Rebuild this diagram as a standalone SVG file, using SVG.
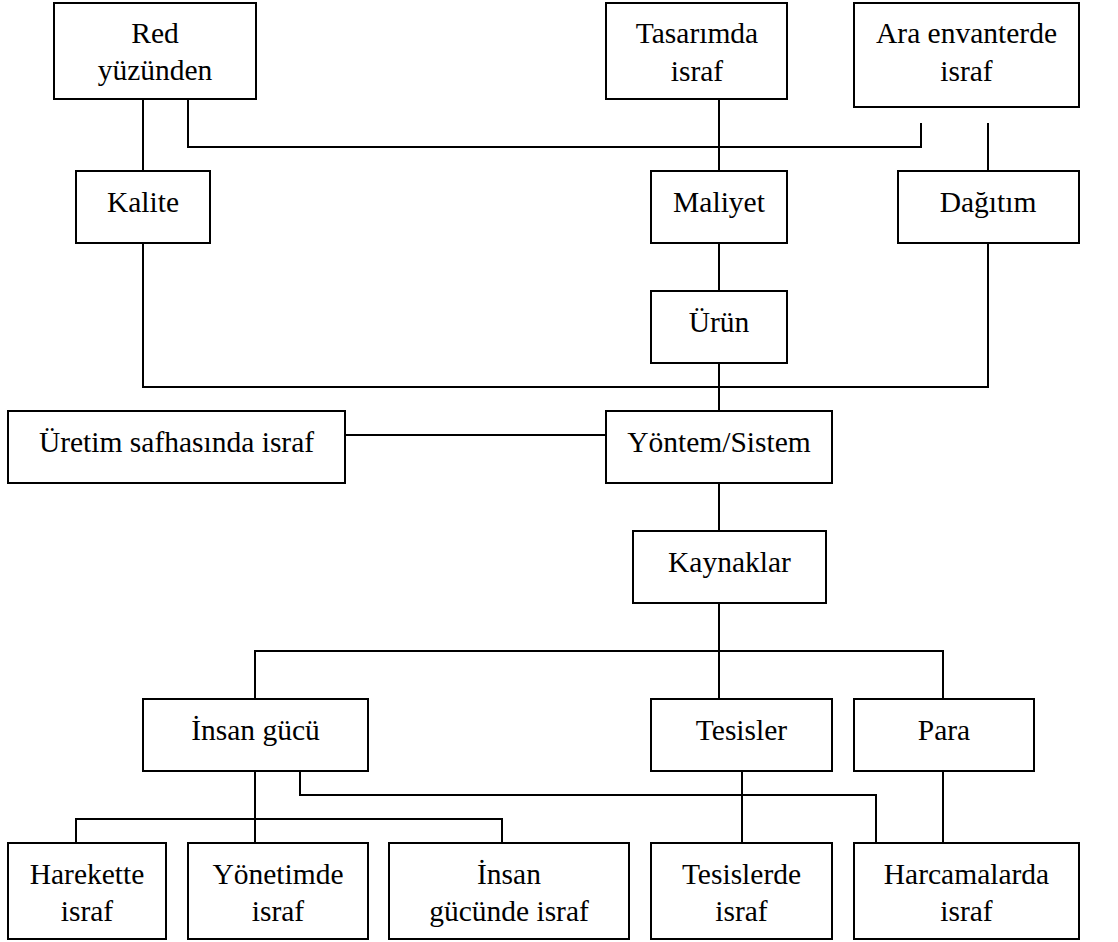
<svg xmlns="http://www.w3.org/2000/svg" width="1118" height="942" viewBox="0 0 1118 942">
  <style>
    .box { fill: #fff; stroke: #000; stroke-width: 2; }
    .wire { fill: none; stroke: #000; stroke-width: 2; }
    .lbl { font-family: 'Liberation Serif', 'Times New Roman', Times, 'DejaVu Serif', serif; font-size: 29.5px; fill: #000; text-anchor: middle; }
  </style>
  <rect width="1118" height="942" fill="#fff"/>

  <!-- connectors -->
  <g id="connectors">
    <line class="wire" x1="143" y1="99" x2="143" y2="171"/>
    <polyline class="wire" points="188,99 188,147 921,147 921,123"/>
    <line class="wire" x1="719" y1="99" x2="719" y2="171"/>
    <line class="wire" x1="988" y1="123" x2="988" y2="171"/>
    <line class="wire" x1="719" y1="243" x2="719" y2="291"/>
    <polyline class="wire" points="143,243 143,387 988,387 988,243"/>
    <line class="wire" x1="719" y1="363" x2="719" y2="411"/>
    <line class="wire" x1="345" y1="435" x2="606" y2="435"/>
    <line class="wire" x1="719" y1="483" x2="719" y2="531"/>
    <line class="wire" x1="719" y1="603" x2="719" y2="699"/>
    <polyline class="wire" points="255,699 255,651 943,651 943,699"/>
    <line class="wire" x1="255" y1="771" x2="255" y2="843"/>
    <polyline class="wire" points="76,843 76,819 502,819 502,843"/>
    <polyline class="wire" points="300,771 300,795 876,795 876,843"/>
    <line class="wire" x1="742" y1="771" x2="742" y2="843"/>
    <line class="wire" x1="943" y1="771" x2="943" y2="843"/>
  </g>

  <g font-family="Liberation Serif, Times New Roman, serif" class="lbl">
  <!-- top row -->
  <g id="red">
    <rect class="box" x="54" y="3" width="202" height="96"/>
    <text class="lbl" x="155" y="43">Red</text>
    <text class="lbl" x="155" y="80">yüzünden</text>
  </g>
  <g id="tasarim">
    <rect class="box" x="606" y="3" width="181" height="96"/>
    <text class="lbl" x="697" y="43">Tasarımda</text>
    <text class="lbl" x="697" y="81">israf</text>
  </g>
  <g id="envanter">
    <rect class="box" x="854" y="3" width="225" height="104"/>
    <text class="lbl" x="966.5" y="43">Ara envanterde</text>
    <text class="lbl" x="966.5" y="81">israf</text>
  </g>

  <!-- second row -->
  <g id="kalite">
    <rect class="box" x="76" y="171" width="134" height="72"/>
    <text class="lbl" x="143" y="212">Kalite</text>
  </g>
  <g id="maliyet">
    <rect class="box" x="651" y="171" width="136" height="72"/>
    <text class="lbl" x="719" y="212">Maliyet</text>
  </g>
  <g id="dagitim">
    <rect class="box" x="898" y="171" width="181" height="72"/>
    <text class="lbl" x="988" y="212">Dağıtım</text>
  </g>

  <g id="urun">
    <rect class="box" x="651" y="291" width="136" height="72"/>
    <text class="lbl" x="719" y="332">Ürün</text>
  </g>

  <g id="uretim">
    <rect class="box" x="8" y="411" width="337" height="72"/>
    <text class="lbl" x="176.5" y="452">Üretim safhasında israf</text>
  </g>
  <g id="yontem">
    <rect class="box" x="606" y="411" width="226" height="72"/>
    <text class="lbl" x="719" y="452">Yöntem/Sistem</text>
  </g>

  <g id="kaynaklar">
    <rect class="box" x="633" y="531" width="193" height="72"/>
    <text class="lbl" x="729.5" y="572">Kaynaklar</text>
  </g>

  <!-- resources -->
  <g id="insan">
    <rect class="box" x="143" y="699" width="225" height="72"/>
    <text class="lbl" x="255.5" y="740">İnsan gücü</text>
  </g>
  <g id="tesisler">
    <rect class="box" x="651" y="699" width="181" height="72"/>
    <text class="lbl" x="741.5" y="740">Tesisler</text>
  </g>
  <g id="para">
    <rect class="box" x="854" y="699" width="180" height="72"/>
    <text class="lbl" x="944" y="740">Para</text>
  </g>

  <!-- bottom row -->
  <g id="hareket">
    <rect class="box" x="8" y="843" width="158" height="96"/>
    <text class="lbl" x="87" y="884">Harekette</text>
    <text class="lbl" x="87" y="921">israf</text>
  </g>
  <g id="yonetim">
    <rect class="box" x="188" y="843" width="180" height="96"/>
    <text class="lbl" x="278" y="884">Yönetimde</text>
    <text class="lbl" x="278" y="921">israf</text>
  </g>
  <g id="insangucu">
    <rect class="box" x="389" y="843" width="240" height="96"/>
    <text class="lbl" x="509" y="884">İnsan</text>
    <text class="lbl" x="509" y="921">gücünde israf</text>
  </g>
  <g id="tesislerde">
    <rect class="box" x="651" y="843" width="181" height="96"/>
    <text class="lbl" x="741.5" y="884">Tesislerde</text>
    <text class="lbl" x="741.5" y="921">israf</text>
  </g>
  <g id="harcama">
    <rect class="box" x="854" y="843" width="225" height="96"/>
    <text class="lbl" x="966.5" y="884">Harcamalarda</text>
    <text class="lbl" x="966.5" y="921">israf</text>
  </g>
  </g>
</svg>
